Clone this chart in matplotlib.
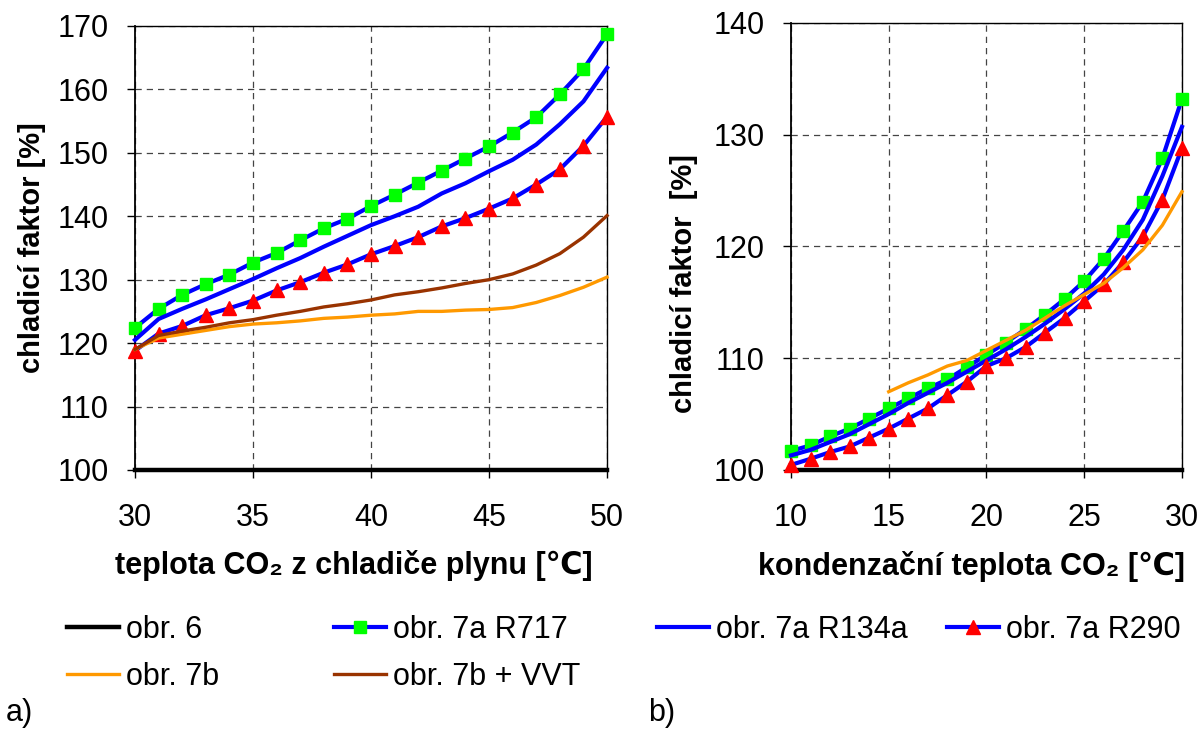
import matplotlib
matplotlib.use('Agg')
import matplotlib.pyplot as plt
from matplotlib.lines import Line2D

plt.rcParams['font.family'] = ['Liberation Sans', 'DejaVu Sans']

# ---- a) chladicí faktor vs teplota CO2 z chladiče plynu ----
x_a = [30, 31, 32, 33, 34, 35, 36, 37, 38, 39, 40, 41, 42, 43, 44, 45, 46, 47, 48, 49, 50]
a_obr6 = [100, 100, 100, 100, 100, 100, 100, 100, 100, 100, 100,
          100, 100, 100, 100, 100, 100, 100, 100, 100, 100]
a_r717 = [122.4, 125.4, 127.6, 129.3, 130.8, 132.7, 134.2, 136.2, 138.1, 139.6, 141.6,
          143.4, 145.3, 147.2, 149.1, 151.0, 153.2, 155.6, 159.2, 163.2, 168.7]
a_r134a = [120.5, 123.8, 125.4, 126.9, 128.5, 130.1, 131.8, 133.4, 135.2, 136.9, 138.6,
           140.0, 141.5, 143.6, 145.2, 147.1, 148.9, 151.3, 154.5, 158.1, 163.4]
a_r290 = [118.8, 121.5, 122.7, 124.4, 125.5, 126.7, 128.3, 129.6, 131.1, 132.4, 134.0,
          135.3, 136.7, 138.4, 139.7, 141.2, 142.8, 145.0, 147.4, 151.1, 155.7]
a_7b = [119.0, 120.8, 121.4, 122.0, 122.6, 123.0, 123.2, 123.5, 123.9, 124.1, 124.4,
        124.6, 125.0, 125.0, 125.2, 125.3, 125.6, 126.4, 127.5, 128.8, 130.4]
a_vvt = [119.0, 121.2, 121.9, 122.5, 123.2, 123.7, 124.4, 125.0, 125.7, 126.2, 126.8,
         127.6, 128.1, 128.7, 129.4, 130.0, 130.9, 132.3, 134.1, 136.7, 140.1]

# ---- b) chladicí faktor vs kondenzační teplota CO2 ----
x_b = [10, 11, 12, 13, 14, 15, 16, 17, 18, 19, 20, 21, 22, 23, 24, 25, 26, 27, 28, 29, 30]
b_obr6 = [100, 100, 100, 100, 100, 100, 100, 100, 100, 100, 100,
          100, 100, 100, 100, 100, 100, 100, 100, 100, 100]
b_r717 = [101.7, 102.2, 103.0, 103.7, 104.6, 105.5, 106.4, 107.3, 108.1, 109.2, 110.3,
          111.4, 112.6, 113.9, 115.3, 116.9, 118.9, 121.4, 124.0, 127.9, 133.2]
b_r134a = [101.3, 101.8, 102.5, 103.2, 104.1, 105.0, 106.0, 106.9, 107.8, 108.8, 109.8,
           110.8, 111.9, 113.1, 114.4, 115.8, 117.5, 119.7, 122.4, 126.3, 130.7]
b_r290 = [100.45, 101.0, 101.6, 102.1, 102.9, 103.7, 104.6, 105.5, 106.7, 107.9, 109.3,
          110.0, 111.0, 112.3, 113.6, 115.1, 116.6, 118.6, 120.9, 124.2, 128.8]
x_b_7b = [15, 16, 17, 18, 19, 20, 21, 22, 23, 24, 25, 26, 27, 28, 29, 30]
b_7b = [107.0, 107.8, 108.5, 109.3, 109.8, 110.7, 111.6, 112.5, 113.6, 114.7, 115.7,
        116.7, 118.1, 119.7, 121.9, 124.9]

BLUE = '#0000ff'
GREEN = '#00ff00'
RED = '#ff0000'
ORANGE = '#ff9900'
BROWN = '#993300'

sty_obr6 = dict(color='black', lw=3.2)
sty_r717 = dict(color=BLUE, lw=3.0, marker='s', ms=8, mfc=GREEN, mec=GREEN)
sty_r134a = dict(color=BLUE, lw=3.0)
sty_r290 = dict(color=BLUE, lw=3.0, marker='^', ms=10, mfc=RED, mec=RED)
sty_7b = dict(color=ORANGE, lw=2.4)
sty_vvt = dict(color=BROWN, lw=2.4)

FS = 22


def style_axes(ax, xlim, xticks, ylim, yticks):
    ax.set_xlim(*xlim)
    ax.set_ylim(*ylim)
    ax.set_xticks(xticks)
    ax.set_yticks(yticks)
    ax.grid(True, ls=(0, (5, 4)), color='#444444', lw=0.9)
    ax.set_axisbelow(True)
    for s in ['top', 'right']:
        ax.spines[s].set_linewidth(1.0)
    for s in ['left', 'bottom']:
        ax.spines[s].set_linewidth(1.3)
    ax.tick_params(direction='out', length=6, width=1.0, labelsize=FS)
    ax.tick_params(axis='y', pad=13)
    ax.tick_params(axis='x', pad=18)


fig = plt.figure(figsize=(12.03, 7.31), dpi=100)
ax1 = fig.add_axes([0.1122, 0.3571, 0.3924, 0.6074])
ax2 = fig.add_axes([0.6575, 0.3571, 0.3250, 0.6115])

for ax, xs, d6, d717, d134, d290 in [(ax1, x_a, a_obr6, a_r717, a_r134a, a_r290),
                                     (ax2, x_b, b_obr6, b_r717, b_r134a, b_r290)]:
    ax.plot(xs, d6, clip_on=False, zorder=3, **sty_obr6)
    ax.plot(xs, d717, clip_on=False, zorder=3, **sty_r717)
    ax.plot(xs, d134, clip_on=False, zorder=3, **sty_r134a)
    ax.plot(xs, d290, clip_on=False, zorder=3, **sty_r290)

ax1.plot(x_a, a_7b, clip_on=False, zorder=3, **sty_7b)
ax1.plot(x_a, a_vvt, clip_on=False, zorder=3, **sty_vvt)
ax2.plot(x_b_7b, b_7b, clip_on=False, zorder=3, **sty_7b)

style_axes(ax1, (30, 50), [30, 35, 40, 45, 50], (100, 170), range(100, 171, 10))
style_axes(ax2, (10, 30), [10, 15, 20, 25, 30], (100, 140), range(100, 141, 10))

ylab_kw = dict(fontsize=21, fontweight='bold', va='center')
xlab_kw = dict(fontsize=22, fontweight='bold', va='center')
ax1.set_ylabel('chladicí faktor [%]', **ylab_kw)
ax1.yaxis.set_label_coords(-0.218, 0.5)
ax1.set_xlabel('teplota CO₂ z chladiče plynu [℃]', **xlab_kw)
ax1.xaxis.set_label_coords(0.464, -0.216)
ax2.set_ylabel('chladicí faktor  [%]', **ylab_kw)
ax2.yaxis.set_label_coords(-0.274, 0.416)
ax2.set_xlabel('kondenzační teplota CO₂ [℃]', **xlab_kw)
ax2.xaxis.set_label_coords(0.463, -0.216)

# legend, laid out in four columns like the original
h_obr6 = Line2D([], [], **sty_obr6)
h_r717 = Line2D([], [], **sty_r717)
h_r134a = Line2D([], [], **sty_r134a)
h_r290 = Line2D([], [], **sty_r290)
h_7b = Line2D([], [], **sty_7b)
h_vvt = Line2D([], [], **sty_vvt)

columns = [
    (67, [h_obr6, h_7b], ['obr. 6', 'obr. 7b']),
    (334, [h_r717, h_vvt], ['obr. 7a R717', 'obr. 7b + VVT']),
    (657, [h_r134a], ['obr. 7a R134a']),
    (947, [h_r290], ['obr. 7a R290']),
]
for xpx, hs, ls in columns:
    fig.legend(hs, ls, loc='upper left', bbox_to_anchor=(xpx / 1203, 1 - 615 / 731),
               frameon=False, fontsize=FS, handlelength=1.7, handletextpad=0.23,
               borderpad=0, borderaxespad=0, labelspacing=0.56, numpoints=1)

fig.text(6 / 1203, 1 - 713 / 731, 'a)', fontsize=FS, va='center', ha='left')
fig.text(648 / 1203, 1 - 713 / 731, 'b)', fontsize=FS, va='center', ha='left')

fig.savefig('out.png', dpi=100)
